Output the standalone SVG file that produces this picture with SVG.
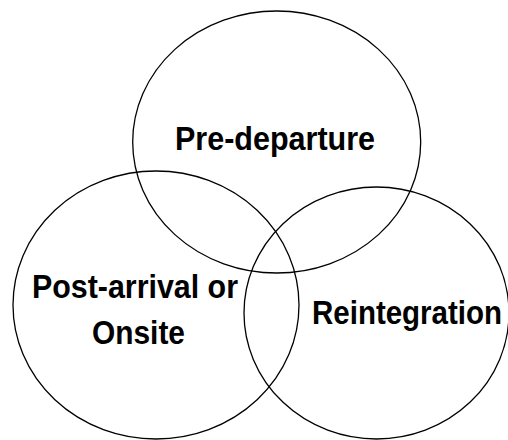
<svg xmlns="http://www.w3.org/2000/svg" width="508" height="440" viewBox="0 0 508 440">
<style>
.c{fill:none;stroke:#000;stroke-width:1.3}
.t{font-family:"Liberation Sans",Arial,sans-serif;font-weight:bold;font-size:34px;fill:#000}
</style>
<rect width="508" height="440" fill="#fff"/>
<g id="pre-departure">
<ellipse class="c" cx="276.7" cy="142" rx="144" ry="131"/>
<text class="t" x="175" y="150" textLength="200" lengthAdjust="spacingAndGlyphs">Pre-departure</text>
</g>
<g id="post-arrival">
<ellipse class="c" cx="156" cy="305" rx="143" ry="134"/>
<text class="t" x="32" y="298" textLength="206" lengthAdjust="spacingAndGlyphs">Post-arrival or</text>
<text class="t" x="92" y="344" textLength="93" lengthAdjust="spacingAndGlyphs">Onsite</text>
</g>
<g id="reintegration">
<ellipse class="c" cx="376.5" cy="313" rx="132.5" ry="126"/>
<text class="t" x="312" y="324" textLength="190" lengthAdjust="spacingAndGlyphs">Reintegration</text>
</g>
<g id="connectors"/>
</svg>
